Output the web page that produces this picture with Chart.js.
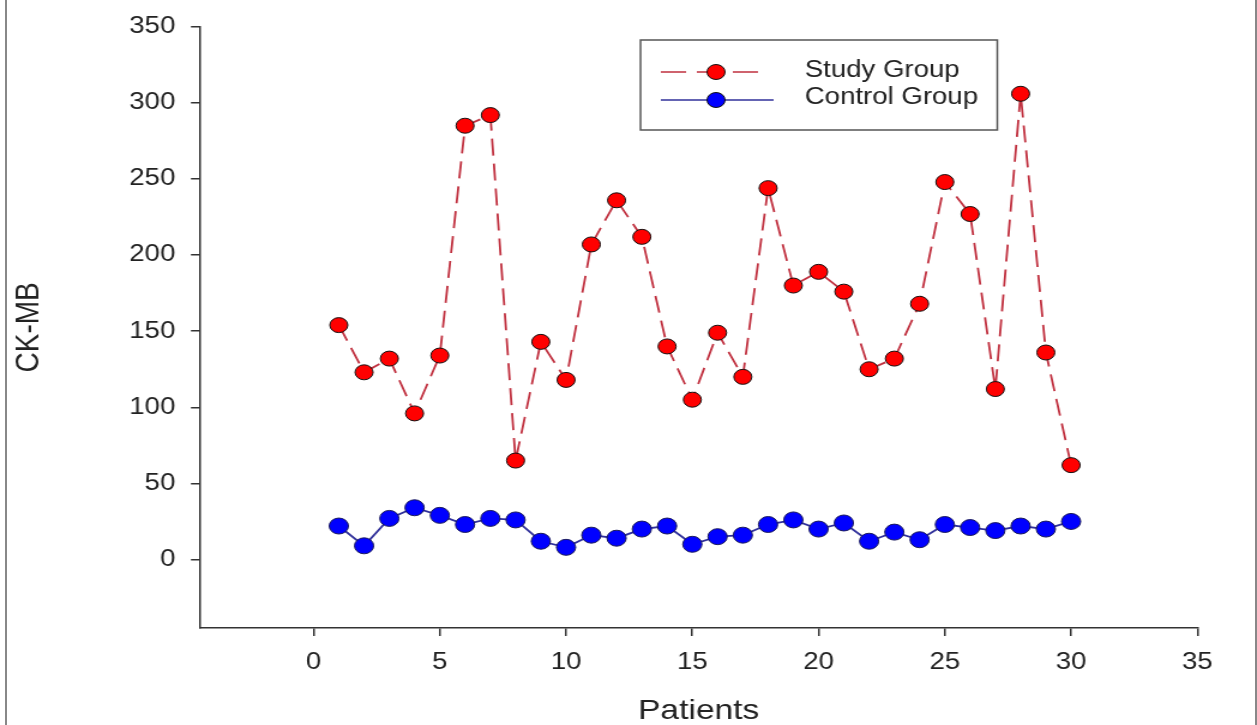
<!DOCTYPE html>
<html>
<head>
<meta charset="utf-8">
<script src="https://cdn.jsdelivr.net/npm/chart.js@4/dist/chart.umd.min.js"></script>
<style>
  html, body { margin: 0; padding: 0; background: #fff; overflow: hidden; }
  #wrap { position: relative; width: 1257px; height: 725px; }
  /* the original figure is stretched sideways, so the canvas is too */
  #stretch { position: absolute; left: 0; top: 0; width: 1048px; height: 725px;
             transform: scaleX(1.1994); transform-origin: 0 0; }
  #frame { position: absolute; left: 5px; top: 0; width: 1248px; height: 725px;
           border-left: 2px solid #888; border-right: 2px solid #888; pointer-events: none; }
</style>
</head>
<body>
<div id="wrap">
  <div id="stretch"><canvas id="chart" width="1048" height="725"></canvas></div>
  <div id="frame"></div>
</div>
<script>
const patients = [1,2,3,4,5,6,7,8,9,10,11,12,13,14,15,16,17,18,19,20,21,22,23,24,25,26,27,28,29,30];
const studyGroup = [154,123,132,96,134,285,292,65,143,118,207,236,212,140,105,149,120,244,180,189,176,125,132,168,248,227,112,306,136,62];
const controlGroup = [22,9,27,34,29,23,27,26,12,8,16,14,20,22,10,15,16,23,26,20,24,12,18,13,23,21,19,22,20,25];
const xTicks = [0,5,10,15,20,25,30,35];
const yTicks = [0,50,100,150,200,250,300,350];

const studyLine = "#c0303f";
const controlLine = "#30309a";
const font = "Arial, 'Liberation Sans', sans-serif";

// legend drawn by hand: line sample + marker, like the original plot
const legendBox = {
  id: "legendBox",
  afterDraw(chart) {
    const ctx = chart.ctx;
    const x = 534, y = 40, w = 297.5, h = 90;
    ctx.save();
    ctx.fillStyle = "#fff";
    ctx.fillRect(x, y, w, h);
    ctx.strokeStyle = "#555";
    ctx.lineWidth = 1.5;
    ctx.strokeRect(x, y, w, h);
    const rows = [
      { label: "Study Group", line: studyLine, fill: "#ff0000", dash: [21, 9], ry: y + 32, ty: y + 31, end: x + 103 },
      { label: "Control Group", line: controlLine, fill: "#0000ff", dash: [], ry: y + 60, ty: y + 58, end: x + 111 }
    ];
    rows.forEach(r => {
      ctx.strokeStyle = r.line;
      ctx.lineWidth = 1.5;
      ctx.setLineDash(r.dash);
      ctx.beginPath();
      ctx.moveTo(x + 17, r.ry);
      ctx.lineTo(r.end, r.ry);
      ctx.stroke();
      ctx.setLineDash([]);
      ctx.beginPath();
      ctx.arc(x + 63, r.ry, 7.5, 0, Math.PI * 2);
      ctx.fillStyle = r.fill;
      ctx.fill();
      ctx.strokeStyle = "#111";
      ctx.lineWidth = 1;
      ctx.stroke();
      ctx.fillStyle = "#222";
      ctx.font = "23px " + font;
      ctx.textBaseline = "middle";
      ctx.fillText(r.label, x + 137, r.ty);
    });
    ctx.restore();
  }
};

new Chart(document.getElementById("chart"), {
  type: "line",
  data: {
    datasets: [
      {
        label: "Study Group",
        data: patients.map((p, i) => ({ x: p, y: studyGroup[i] })),
        borderColor: studyLine,
        borderWidth: 1.8,
        borderDash: [17, 8],
        pointRadius: 7.5,
        pointBackgroundColor: "#ff0000",
        pointBorderColor: "#111",
        pointBorderWidth: 1,
        tension: 0
      },
      {
        label: "Control Group",
        data: patients.map((p, i) => ({ x: p, y: controlGroup[i] })),
        borderColor: controlLine,
        borderWidth: 1.8,
        pointRadius: 8,
        pointBackgroundColor: "#0000ff",
        pointBorderColor: "#1a1a5a",
        pointBorderWidth: 1,
        tension: 0
      }
    ]
  },
  options: {
    responsive: false,
    animation: false,
    layout: { padding: { top: 23, right: 49.7, left: 0, bottom: 0 } },
    plugins: { legend: { display: false }, tooltip: { enabled: false } },
    scales: {
      x: {
        type: "linear",
        min: -4.5,
        max: 35,
        afterBuildTicks: s => { s.ticks = xTicks.map(v => ({ value: v })); },
        afterFit: s => { s.height = 97; },
        grid: { drawOnChartArea: false, tickLength: 8, tickColor: "#333", lineWidth: 1.5 },
        border: { color: "#333", width: 1.5 },
        ticks: { color: "#222", font: { size: 23, family: font }, padding: 13, maxRotation: 0 },
        title: { display: true, text: "Patients", color: "#222",
                 font: { size: 28, family: font, lineHeight: 1 }, padding: { top: 0, bottom: 0 } }
      },
      y: {
        min: -45,
        max: 350,
        afterBuildTicks: s => { s.ticks = yTicks.map(v => ({ value: v })); },
        afterFit: s => { s.width = 166.7; },
        grid: { drawOnChartArea: false, tickLength: 7.5, tickColor: "#333", lineWidth: 1.5 },
        border: { color: "#333", width: 1.5 },
        ticks: { color: "#222", font: { size: 23, family: font }, padding: 13 },
        title: { display: true, text: "CK-MB", color: "#222",
                 font: { size: 28, family: font, lineHeight: 1 }, padding: { top: 10, bottom: 0 } }
      }
    }
  },
  plugins: [legendBox]
});
</script>
</body>
</html>
